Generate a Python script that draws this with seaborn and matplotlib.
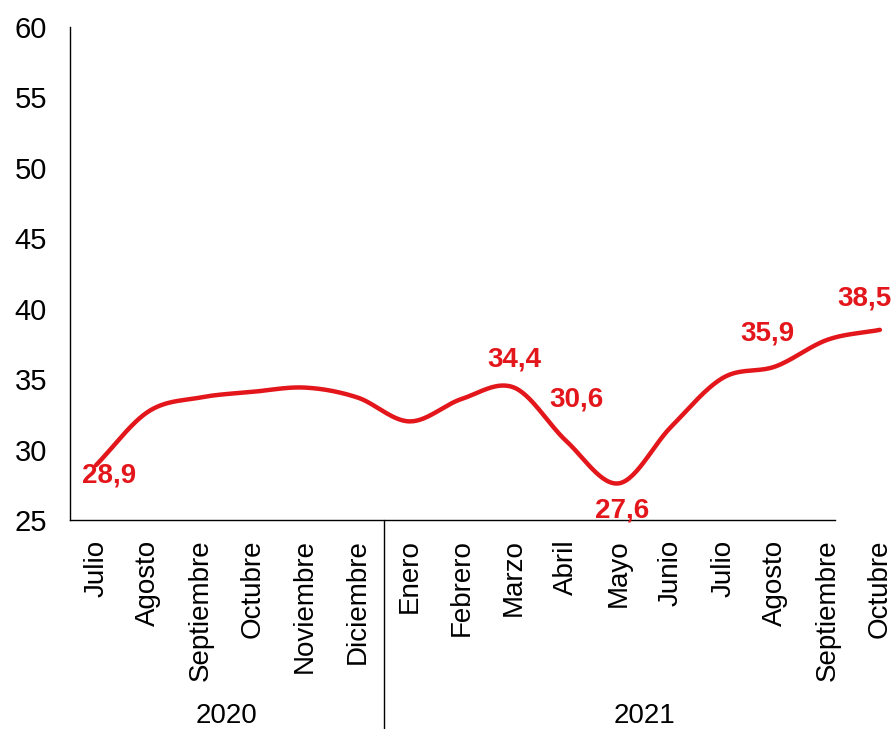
import numpy as np
import pandas as pd
import matplotlib
matplotlib.use('Agg')
import matplotlib.pyplot as plt
import matplotlib.transforms as mtransforms
import seaborn as sns

# Data
meses = ['Julio', 'Agosto', 'Septiembre', 'Octubre', 'Noviembre', 'Diciembre',
         'Enero', 'Febrero', 'Marzo', 'Abril', 'Mayo', 'Junio',
         'Julio', 'Agosto', 'Septiembre', 'Octubre']
valores = [28.9, 32.7, 33.7, 34.1, 34.4, 33.7,
           32.0, 33.6, 34.4, 30.6, 27.6, 31.6,
           35.1, 35.9, 37.8, 38.5]
anios = ['2020', '2021']
meses_por_anio = [6, 10]
# which points carry a value label
etiquetados = [0, 8, 9, 10, 13, 15]

sns.set_theme(style='white')
plt.rcParams['font.family'] = ['Liberation Sans', 'DejaVu Sans']

RED = '#e3161b'


def smooth(xs, ys, n=30):
    """Catmull-Rom spline through the points (like Excel's smoothed line)."""
    xs = np.asarray(xs, float)
    ys = np.asarray(ys, float)
    px = np.concatenate([[2 * xs[0] - xs[1]], xs, [2 * xs[-1] - xs[-2]]])
    py = np.concatenate([[2 * ys[0] - ys[1]], ys, [2 * ys[-1] - ys[-2]]])
    out_x, out_y = [], []
    for i in range(1, len(px) - 2):
        t = np.linspace(0, 1, n, endpoint=False)
        for arr, out in ((px, out_x), (py, out_y)):
            p0, p1, p2, p3 = arr[i - 1], arr[i], arr[i + 1], arr[i + 2]
            out.extend(0.5 * ((2 * p1) + (-p0 + p2) * t
                              + (2 * p0 - 5 * p1 + 4 * p2 - p3) * t ** 2
                              + (-p0 + 3 * p1 - 3 * p2 + p3) * t ** 3))
    out_x.append(xs[-1])
    out_y.append(ys[-1])
    return np.array(out_x), np.array(out_y)


x = np.arange(len(meses))
sx, sy = smooth(x, valores)
curve = pd.DataFrame({'x': sx, 'y': sy})

fig = plt.figure(figsize=(8.94, 7.29), dpi=100)
ax = fig.add_axes([70 / 894, 209 / 729, 836 / 894, 493 / 729])

sns.lineplot(data=curve, x='x', y='y', ax=ax, color=RED, linewidth=3.2,
             sort=False, estimator=None, clip_on=False)

ax.set_xlim(-0.5, len(meses) - 0.5)
ax.set_ylim(25, 60)
ax.set_yticks(range(25, 61, 5))
ax.set_xticks(x)
ax.set_xticklabels(meses, rotation=90, va='top', ha='center')
ax.tick_params(axis='x', labelsize=20, colors='black', length=0, pad=14)
ax.tick_params(axis='y', labelsize=21, colors='black', length=0, pad=16.5)
ax.set_xlabel('')
ax.set_ylabel('')
ax.grid(False)

for side in ['top', 'right']:
    ax.spines[side].set_visible(False)
for side in ['left', 'bottom']:
    ax.spines[side].set_color('black')
    ax.spines[side].set_linewidth(1.0)
ax.spines['bottom'].set_bounds(-0.5, 14.14)

# value labels (offsets in pixels, positive = up)
offsets = {0: (13, -10), 8: (0, 28), 9: (10, 42), 10: (4, -27), 13: (-8, 33), 15: (-15, 31)}
for i in etiquetados:
    dx, dy = offsets[i]
    ax.annotate(f'{valores[i]:.1f}'.replace('.', ','), (x[i], valores[i]),
                xytext=(dx, dy), textcoords='offset pixels',
                ha='center', va='center', fontsize=20, fontweight='bold',
                color=RED, annotation_clip=False)

# year groups under the month labels
trans = mtransforms.blended_transform_factory(ax.transData, ax.transAxes)
start = 0
for anio, n in zip(anios, meses_por_anio):
    ax.text(start + (n - 1) / 2, -0.398, anio, transform=trans,
            ha='center', va='center', fontsize=20, color='black')
    start += n
ax.plot([meses_por_anio[0] - 0.5] * 2, [0, -0.45], transform=trans,
        color='black', linewidth=1.0, clip_on=False)

fig.savefig('out.png', dpi=100)
